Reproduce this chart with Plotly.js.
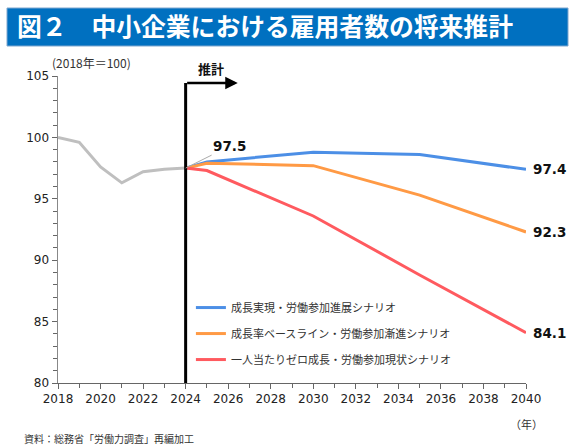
<!DOCTYPE html>
<html><head><meta charset="utf-8">
<script src="https://cdn.plot.ly/plotly-3.0.1.min.js"></script>
<style>html,body{margin:0;padding:0;background:#fff}#chart{width:581px;height:446px}</style>
</head><body><div id="chart"></div>
<script>
// Data
const yearsActual = [2018, 2019, 2020, 2021, 2022, 2023, 2024];
const valuesActual = [100, 99.6, 97.6, 96.3, 97.2, 97.4, 97.5];
const yearsProj = [2024, 2025, 2030, 2035, 2040];
const growthScenario = [97.5, 98.0, 98.8, 98.6, 97.4];
const baselineScenario = [97.5, 97.9, 97.7, 95.3, 92.3];
const zeroScenario = [97.5, 97.3, 93.6, 88.8, 84.1];
const seriesNames = [
  '成長実現・労働参加進展シナリオ',
  '成長率ベースライン・労働参加漸進シナリオ',
  '一人当たりゼロ成長・労働参加現状シナリオ'
];
const projStartYear = 2024;

const JP = '"Noto Sans CJK JP", "DejaVu Sans", sans-serif';
const NUM = '"DejaVu Sans", "Noto Sans CJK JP", sans-serif';
const colors = ['#4C8FE6', '#FF9A45', '#FF5A5F'];
const projSeries = [growthScenario, baselineScenario, zeroScenario];

const traces = [{
  x: yearsActual, y: valuesActual, mode: 'lines', type: 'scatter',
  line: {color: '#BFBFBF', width: 3}, showlegend: false, hoverinfo: 'skip'
}];
projSeries.forEach((s, i) => {
  traces.push({
    x: yearsProj, y: s, mode: 'lines', type: 'scatter', name: seriesNames[i],
    legendgroup: 'g' + i,
    line: {color: colors[i], width: 3}
  });
});

const annotations = [];
projSeries.forEach((s, i) => {
  annotations.push({
    x: yearsProj[yearsProj.length - 1], y: s[s.length - 1], xref: 'x', yref: 'y',
    text: '<b>' + s[s.length - 1].toFixed(1) + '</b>', showarrow: false,
    xanchor: 'left', xshift: 5, font: {family: NUM, size: 13.5, color: '#111'}
  });
});
annotations.push({
  x: projStartYear, y: valuesActual[valuesActual.length - 1], xref: 'x', yref: 'y',
  text: '<b>' + valuesActual[valuesActual.length - 1].toFixed(1) + '</b>',
  showarrow: true, arrowhead: 0, arrowwidth: 1, arrowcolor: '#AAAAAA',
  ax: 44, ay: -22, font: {family: NUM, size: 13.5, color: '#111'}
});
// projection arrow
annotations.push({
  x: 2026.45, y: 104.43, xref: 'x', yref: 'y', ax: projStartYear, ay: 104.43,
  axref: 'x', ayref: 'y', text: '', showarrow: true, arrowhead: 2,
  arrowsize: 1, arrowwidth: 2.5, arrowcolor: '#000'
});
annotations.push({
  x: 2025.2, y: 104.43, xref: 'x', yref: 'y', yanchor: 'bottom', yshift: 3,
  text: '<b>推計</b>', showarrow: false, font: {family: JP, size: 13, color: '#111'}
});
annotations.push({
  x: (50 - 58) / 468, y: (383 - 63) / 307, xref: 'paper', yref: 'paper',
  text: '(2018年＝100)', showarrow: false, xanchor: 'left', yanchor: 'middle',
  font: {family: JP, size: 12, color: '#333'}
});
annotations.push({
  x: 1, y: 0, xref: 'paper', yref: 'paper', xanchor: 'center', yanchor: 'middle',
  yshift: -41, text: '（年）', showarrow: false, font: {family: JP, size: 11, color: '#333'}
});
annotations.push({
  x: -36 / 468, y: 0, xref: 'paper', yref: 'paper', xanchor: 'left', yanchor: 'middle',
  yshift: -55, text: '資料：総務省「労働力調査」再編加工', showarrow: false,
  font: {family: JP, size: 10, color: '#333'}
});

const layout = {
  width: 581, height: 446,
  margin: {l: 58, r: 55, t: 76, b: 63},
  paper_bgcolor: '#fff', plot_bgcolor: '#fff',
  title: {
    text: '<b>図２　中小企業における雇用者数の将来推計</b>',
    xref: 'container', yref: 'container', x: 17 / 581, xanchor: 'left',
    y: 1 - 27 / 446, yanchor: 'middle',
    font: {family: JP, size: 24.8, color: '#fff'}
  },
  xaxis: {
    range: [2018, 2040], dtick: 2, tick0: 2018, showgrid: false, zeroline: false,
    showline: true, linecolor: '#666', linewidth: 1,
    ticks: 'outside', ticklen: 5, tickcolor: '#666',
    minor: {dtick: 1, ticks: 'outside', ticklen: 4, tickcolor: '#666', showgrid: false},
    tickfont: {family: NUM, size: 12, color: '#222'}
  },
  yaxis: {
    range: [80, 105], dtick: 5, showgrid: false, zeroline: false,
    showline: true, linecolor: '#888', linewidth: 1.5,
    ticks: 'outside', ticklen: 5, tickcolor: '#666',
    minor: {dtick: 1, ticks: 'outside', ticklen: 4, tickcolor: '#666', showgrid: false},
    tickfont: {family: NUM, size: 12, color: '#222'}
  },
  legend: {
    x: 0.284, y: 0.293, xanchor: 'left', yanchor: 'top',
    bgcolor: 'rgba(0,0,0,0)', tracegroupgap: 7,
    font: {family: JP, size: 11, color: '#333'}
  },
  shapes: [
    {type: 'rect', xref: 'paper', yref: 'paper', x0: (7 - 58) / 468, x1: (568 - 58) / 468,
     y0: (383 - 46) / 307, y1: (383 - 8) / 307, fillcolor: '#0070C0',
     line: {color: '#7FA7CF', width: 1}, layer: 'below'},
    {type: 'line', xref: 'x', yref: 'y', x0: projStartYear, x1: projStartYear,
     y0: 80, y1: 104.43, line: {color: '#000', width: 3}}
  ],
  annotations: annotations
};

Plotly.newPlot('chart', traces, layout, {displayModeBar: false, staticPlot: true});
</script></body></html>
